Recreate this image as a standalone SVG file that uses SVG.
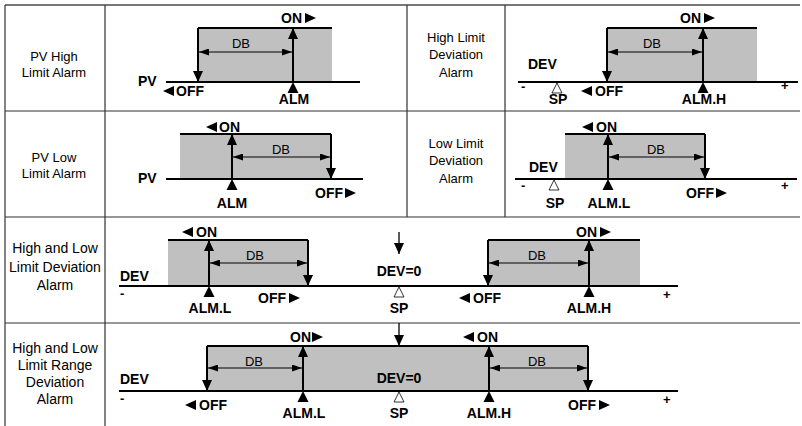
<svg xmlns="http://www.w3.org/2000/svg" xmlns:xlink="http://www.w3.org/1999/xlink" width="802" height="426" viewBox="0 0 802 426">
<style>
.grid{stroke:#333;stroke-width:1.2;fill:none}
.gtop{stroke:#777;stroke-width:2;fill:none}
.fill{fill:#c0c0c0}
.thick{stroke:#000;stroke-width:2;fill:none}
.arr{stroke:#000;stroke-width:2;fill:none;marker-end:url(#ah)}
.thin{stroke:#000;stroke-width:1.3;fill:none;marker-end:url(#ah)}
.db{stroke:#000;stroke-width:1;fill:none;marker-start:url(#dh);marker-end:url(#dh)}
.lab{font-family:"Liberation Sans",Arial,sans-serif;font-size:13px;fill:#000;text-anchor:middle}
.lab2{font-family:"Liberation Sans",Arial,sans-serif;font-size:14px;fill:#000;text-anchor:middle}
.b{font-family:"Liberation Sans",Arial,sans-serif;font-size:14px;font-weight:bold;fill:#000}
.c{text-anchor:middle}
.r{font-family:"Liberation Sans",Arial,sans-serif;font-size:13px;font-weight:bold;fill:#000}
.rc{font-family:"Liberation Sans",Arial,sans-serif;font-size:13px;fill:#000;text-anchor:middle}
</style>
<defs>
<marker id="ah" markerUnits="userSpaceOnUse" markerWidth="11" markerHeight="10" refX="11" refY="5" orient="auto"><path d="M0,0 L11,5 L0,10 z" fill="#000"/></marker>
<marker id="dh" markerUnits="userSpaceOnUse" markerWidth="10" markerHeight="7" refX="10" refY="3.5" orient="auto-start-reverse"><path d="M0,0 L10,3.5 L0,7 z" fill="#000"/></marker>
<polygon id="tr" points="0,-5 11,0 0,5" fill="#000"/>
<polygon id="tl" points="0,0 11,-5 11,5" fill="#000"/>
<polygon id="tu" points="0,0 5.5,11 -5.5,11" fill="#000"/>
<polygon id="sp" points="0,0 5,10 -5,10" fill="#fff" stroke="#000" stroke-width="0.8"/>
</defs>

<g id="table">
<path class="gtop" d="M5,5 H800"/>
<path class="grid" d="M5,111 H800 M5,217 H800 M5,323 H800 M5,5 V426 M105,5 V426 M407,5 V217 M505,5 V217"/>
</g>

<g id="labels">
<text class="lab" x="54" y="61">PV High</text>
<text class="lab" x="54" y="77">Limit Alarm</text>
<text class="lab" x="54" y="162">PV Low</text>
<text class="lab" x="54" y="178">Limit Alarm</text>
<text class="lab" x="456" y="42">High Limit</text>
<text class="lab" x="456" y="59">Deviation</text>
<text class="lab" x="456" y="77">Alarm</text>
<text class="lab" x="456" y="148">Low Limit</text>
<text class="lab" x="456" y="165">Deviation</text>
<text class="lab" x="456" y="183">Alarm</text>
<text class="lab2" x="55" y="253">High and Low</text>
<text class="lab2" x="55" y="272">Limit Deviation</text>
<text class="lab2" x="55" y="290">Alarm</text>
<text class="lab2" x="55" y="353">High and Low</text>
<text class="lab2" x="55" y="370">Limit Range</text>
<text class="lab2" x="55" y="387">Deviation</text>
<text class="lab2" x="55" y="404">Alarm</text>
</g>

<g id="pv-high">
<rect class="fill" x="198" y="28" width="134" height="54"/>
<path class="thick" d="M198,28 H332 M166,82 H360"/>
<text class="rc" x="241" y="48">DB</text>
<text class="b" x="281" y="23">ON</text><use xlink:href="#tr" x="305" y="18"/>
<text class="b" x="138" y="86">PV</text>
<use xlink:href="#tl" x="163" y="91"/><text class="b" x="176" y="96">OFF</text>
<use xlink:href="#tu" x="293" y="82"/><text class="b c" x="294" y="104">ALM</text>
</g>

<g id="high-dev">
<rect class="fill" x="607" y="28" width="150" height="54"/>
<path class="thick" d="M607,28 H757 M518,82 H798"/>
<text class="rc" x="652" y="48">DB</text>
<text class="b" x="680" y="23">ON</text><use xlink:href="#tr" x="704" y="18"/>
<text class="b" x="528" y="69">DEV</text>
<text class="r" x="521" y="91">-</text>
<use xlink:href="#sp" x="557" y="83"/><text class="b c" x="558" y="104">SP</text>
<use xlink:href="#tl" x="581" y="91"/><text class="b" x="595" y="96">OFF</text>
<use xlink:href="#tu" x="703" y="82"/><text class="b c" x="704" y="104">ALM.H</text>
<text class="r" x="781" y="90">+</text>
</g>

<g id="pv-low">
<rect class="fill" x="180" y="134" width="151" height="45"/>
<path class="thick" d="M180,134 H331 M166,179 H363"/>
<text class="rc" x="281" y="154">DB</text>
<use xlink:href="#tl" x="206" y="127"/><text class="b" x="219" y="132">ON</text>
<text class="b" x="138" y="183">PV</text>
<use xlink:href="#tu" x="232" y="179"/><text class="b c" x="232" y="208">ALM</text>
<text class="b" x="315" y="198">OFF</text><use xlink:href="#tr" x="345" y="193"/>
</g>

<g id="low-dev">
<rect class="fill" x="565" y="134" width="140" height="45"/>
<path class="thick" d="M565,134 H705 M515,179 H797"/>
<text class="rc" x="656" y="154">DB</text>
<use xlink:href="#tl" x="582" y="127"/><text class="b" x="596" y="132">ON</text>
<text class="b" x="529" y="172">DEV</text>
<text class="r" x="521" y="190">-</text>
<use xlink:href="#sp" x="554" y="180"/><text class="b c" x="555" y="208">SP</text>
<use xlink:href="#tu" x="608" y="179"/><text class="b c" x="609" y="208">ALM.L</text>
<text class="b" x="686" y="198">OFF</text><use xlink:href="#tr" x="716" y="193"/>
<text class="r" x="781" y="190">+</text>
</g>

<g id="hl-dev">
<rect class="fill" x="168" y="240" width="140" height="46"/>
<rect class="fill" x="488" y="240" width="152" height="46"/>
<path class="thick" d="M168,240 H308 M488,240 H640 M119,286 H678"/>
<text class="rc" x="255" y="260">DB</text>
<text class="rc" x="537" y="260">DB</text>
<use xlink:href="#tl" x="182" y="232"/><text class="b" x="196" y="237">ON</text>
<text class="b" x="576" y="237">ON</text><use xlink:href="#tr" x="600" y="232"/>
<text class="b" x="120" y="281">DEV</text>
<text class="r" x="120" y="298">-</text>
<text class="b c" x="399" y="276">DEV=0</text>
<use xlink:href="#tu" x="209" y="286"/><text class="b c" x="210" y="313">ALM.L</text>
<text class="b" x="258" y="303">OFF</text><use xlink:href="#tr" x="289" y="298"/>
<use xlink:href="#sp" x="399" y="287"/><text class="b c" x="399" y="313">SP</text>
<use xlink:href="#tl" x="459" y="298"/><text class="b" x="473" y="303">OFF</text>
<use xlink:href="#tu" x="589" y="286"/><text class="b c" x="589" y="313">ALM.H</text>
<text class="r" x="663" y="299">+</text>
</g>

<g id="hl-range">
<rect class="fill" x="207" y="346" width="381" height="45"/>
<path class="thick" d="M207,346 H588 M119,391 H678"/>
<text class="rc" x="254" y="366">DB</text>
<text class="rc" x="537" y="366">DB</text>
<text class="b" x="290" y="342">ON</text><use xlink:href="#tr" x="312" y="337"/>
<use xlink:href="#tl" x="463" y="337"/><text class="b" x="477" y="342">ON</text>
<text class="b c" x="399" y="383">DEV=0</text>
<text class="b" x="120" y="384">DEV</text>
<text class="r" x="120" y="403">-</text>
<use xlink:href="#tl" x="185" y="405"/><text class="b" x="199" y="410">OFF</text>
<use xlink:href="#tu" x="303" y="391"/><text class="b c" x="304" y="418">ALM.L</text>
<use xlink:href="#sp" x="399" y="392"/><text class="b c" x="399" y="418">SP</text>
<use xlink:href="#tu" x="489" y="391"/><text class="b c" x="489" y="418">ALM.H</text>
<text class="b" x="568" y="410">OFF</text><use xlink:href="#tr" x="599" y="405"/>
<text class="r" x="663" y="404">+</text>
</g>

<g id="connectors">
<path class="arr" d="M198,28 V82"/>
<path class="arr" d="M293,82 V28"/>
<path class="db" d="M199,52 H292"/>
<path class="arr" d="M607,28 V82"/>
<path class="arr" d="M703,82 V28"/>
<path class="db" d="M608,52 H702"/>
<path class="arr" d="M331,134 V179"/>
<path class="arr" d="M232,179 V134"/>
<path class="db" d="M233,157 H330"/>
<path class="arr" d="M705,134 V179"/>
<path class="arr" d="M608,179 V134"/>
<path class="db" d="M609,157 H704"/>
<path class="arr" d="M308,240 V286"/>
<path class="arr" d="M209,286 V240"/>
<path class="db" d="M210,263 H307"/>
<path class="arr" d="M488,240 V286"/>
<path class="arr" d="M589,286 V240"/>
<path class="db" d="M489,263 H588"/>
<path class="thin" d="M399,232 V254"/>
<path class="arr" d="M207,346 V391"/>
<path class="arr" d="M588,346 V391"/>
<path class="arr" d="M303,391 V346"/>
<path class="arr" d="M489,391 V346"/>
<path class="db" d="M208,368 H302"/>
<path class="db" d="M490,368 H587"/>
<path class="thin" d="M399,323 V346"/>
</g>
</svg>
